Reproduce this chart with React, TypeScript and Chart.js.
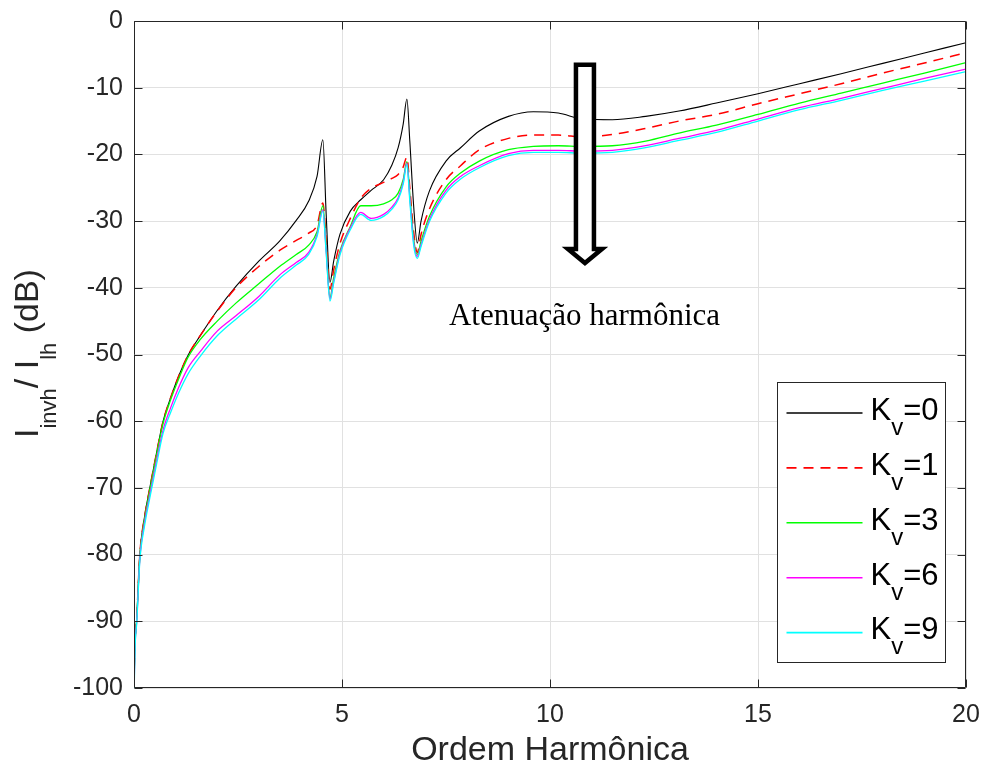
import React, { useEffect, useRef } from "react";
import { Chart, registerables } from "chart.js";

Chart.register(...registerables);

// Harmonic order (x axis)
const HARMONIC = [
  0.005, 0.03, 0.065, 0.14, 0.25, 0.38, 0.55, 0.7, 0.88, 1.07, 1.3, 1.6, 2.0, 2.45,
  3.0, 3.5, 3.9, 4.2, 4.4, 4.54, 4.62, 4.71, 4.8, 4.95, 5.2, 5.45, 5.7, 6.0, 6.2,
  6.35, 6.47, 6.56, 6.63, 6.72, 6.81, 6.9, 7.1, 7.5, 7.85, 8.3, 9.0, 9.6, 10.2,
  10.8, 11.5, 12.3, 13.1, 14.0, 15.0, 16.0, 17.0, 18.0, 19.0, 20.0,
];

// I_invh / I_lh (dB) for each Kv
const KV0 = [
  -96, -92.5, -89.5, -80, -74.5, -70, -64.5, -60, -56.5, -53.3, -50.1, -47.1, -43.4, -39.8,
  -36.0, -33.0, -29.9, -27.0, -23.3, -17.8, -29, -39.2, -36, -32, -28.5, -26.8, -25.4, -23.8, -21.6,
  -19, -15.5, -11.7, -18, -27.5, -33.3, -30, -25.5, -21.0, -19.0, -16.5, -14.3, -13.6, -13.8,
  -14.7, -14.8, -14.3, -13.5, -12.3, -10.9, -9.4, -7.9, -6.35, -4.8, -3.25,
];
const KV1 = [
  -97, -92.5, -89.5, -80, -74.5, -70, -64.5, -60, -56.5, -53.3, -50.1, -47.1, -43.5, -40.0,
  -36.8, -34.4, -32.9, -31.8, -30.6, -27.3, -33, -40.2, -37.3, -33.4, -29.6, -26.6, -25.1, -24.2, -23.6,
  -23.0, -21.9, -20.4, -25, -31.5, -34.7, -32, -28.2, -23.8, -21.7, -19.3, -17.6, -17.1, -17.1,
  -17.4, -17.0, -16.1, -15.0, -14.0, -12.4, -10.9, -9.4, -7.8, -6.3, -4.75,
];
const KV3 = [
  -98, -92.7, -89.7, -80.2, -74.8, -70.3, -64.8, -60.3, -56.8, -53.7, -50.4, -47.7, -45.0, -42.3,
  -39.4, -36.8, -35.0, -33.6, -31.6, -27.7, -34, -41.5, -38.5, -34.5, -30.8, -27.7, -27.7, -27.4, -26.8,
  -25.8, -23.8, -21.1, -26, -32.5, -35.0, -33, -29.3, -24.9, -22.8, -21.0, -19.3, -18.8, -18.7,
  -18.8, -18.7, -18.0, -16.8, -15.6, -14.0, -12.3, -10.8, -9.3, -7.8, -6.25,
];
const KV6 = [
  -99, -93, -90, -80.6, -75.3, -71, -65.6, -61.3, -58.0, -55.0, -52.0, -49.5, -46.5, -44.2,
  -41.3, -38.1, -36.2, -34.7, -32.0, -28.3, -34.5, -41.7, -39, -34.8, -31.0, -28.7, -29.6, -29.0, -27.9,
  -26.5, -24.2, -21.3, -26.5, -33, -35.3, -33.5, -29.8, -25.4, -23.3, -21.7, -19.9, -19.4, -19.4,
  -19.5, -19.4, -18.7, -17.6, -16.4, -14.7, -13.0, -11.6, -10.1, -8.6, -7.2,
];
const KV9 = [
  -100, -93.3, -90.3, -81, -75.8, -71.5, -66.2, -61.8, -58.7, -55.8, -52.9, -50.2, -47.2, -44.7,
  -41.8, -38.6, -36.6, -35.0, -32.3, -28.5, -34.8, -42.0, -39.3, -35.1, -31.3, -29.0, -29.9, -29.3, -28.2,
  -26.8, -24.5, -21.5, -27, -33.5, -35.6, -33.8, -30.1, -25.8, -23.7, -22.0, -20.2, -19.7, -19.7,
  -19.8, -19.7, -19.0, -17.9, -16.7, -15.0, -13.3, -11.9, -10.4, -9.0, -7.6,
];

const SERIES_VALUES = [KV0, KV1, KV3, KV6, KV9];
const SERIES_KV = ["0", "1", "3", "6", "9"];
const SERIES_COLORS = ["#000000", "#ff0000", "#00ff00", "#ff00ff", "#00ffff"];
const SERIES_DASH = [[], [10, 7], [], [], []];
const SERIES_WIDTH = [1.1, 1.5, 1.3, 1.3, 1.3];

const X_TICKS = [0, 5, 10, 15, 20];
const Y_TICKS = [0, -10, -20, -30, -40, -50, -60, -70, -80, -90, -100];

const X_TITLE = "Ordem Harmônica";
const NOTE_TEXT = "Atenuação harmônica";
const NOTE_POS = { x: 10.83, y: -45.6 };
const ARROW = { x: 10.84, top: -6.57, tip: -36.28 };

const SANS = '"Liberation Sans", Arial, Helvetica, sans-serif';
const SERIF = '"Liberation Serif", "Times New Roman", serif';
const AXIS_COLOR = "#262626";

const overlayPlugin = {
  id: "overlay",
  afterDraw(chart: any) {
    const ctx: CanvasRenderingContext2D = chart.ctx;
    const a = chart.chartArea;
    const xs = chart.scales.x;
    const ys = chart.scales.y;
    const L = Math.round(a.left) + 0.5;
    const R = Math.round(a.right) - 0.5;
    const T = Math.round(a.top) + 0.5;
    const B = Math.round(a.bottom) - 0.5;
    ctx.save();

    // Arrow
    const cx = xs.getPixelForValue(ARROW.x);
    const yt = ys.getPixelForValue(ARROW.top);
    const tip = ys.getPixelForValue(ARROW.tip);
    const sw = 9, hw = 17, hh = 14;
    ctx.beginPath();
    ctx.moveTo(cx - sw, yt);
    ctx.lineTo(cx + sw, yt);
    ctx.lineTo(cx + sw, tip - hh);
    ctx.lineTo(cx + hw, tip - hh);
    ctx.lineTo(cx, tip);
    ctx.lineTo(cx - hw, tip - hh);
    ctx.lineTo(cx - sw, tip - hh);
    ctx.closePath();
    ctx.fillStyle = "#ffffff";
    ctx.fill();
    ctx.lineWidth = 4.5;
    ctx.lineJoin = "miter";
    ctx.strokeStyle = "#000000";
    ctx.stroke();

    // Annotation text
    ctx.font = `31px ${SERIF}`;
    ctx.fillStyle = "#000000";
    ctx.textAlign = "center";
    ctx.textBaseline = "alphabetic";
    ctx.fillText(NOTE_TEXT, xs.getPixelForValue(NOTE_POS.x), ys.getPixelForValue(NOTE_POS.y));

    // Axes box
    ctx.strokeStyle = AXIS_COLOR;
    ctx.lineWidth = 1;
    ctx.beginPath();
    ctx.rect(L, T, R - L, B - T);
    ctx.stroke();
    // inner ticks
    ctx.beginPath();
    const tl = 8;
    X_TICKS.forEach((v) => {
      const p = Math.round(xs.getPixelForValue(v)) + 0.5;
      ctx.moveTo(p, B);
      ctx.lineTo(p, B - tl);
      ctx.moveTo(p, T);
      ctx.lineTo(p, T + tl);
    });
    Y_TICKS.forEach((v) => {
      const p = Math.round(ys.getPixelForValue(v)) + 0.5;
      ctx.moveTo(L, p);
      ctx.lineTo(L + tl, p);
      ctx.moveTo(R, p);
      ctx.lineTo(R - tl, p);
    });
    ctx.stroke();

    // Legend
    const lx = Math.round(a.right) - 189 + 0.5;
    const ly = Math.round(a.top) + 361 + 0.5;
    const lw = 168, lh = 280;
    ctx.fillStyle = "#ffffff";
    ctx.fillRect(lx, ly, lw, lh);
    ctx.strokeStyle = AXIS_COLOR;
    ctx.lineWidth = 1;
    ctx.strokeRect(lx, ly, lw, lh);
    SERIES_KV.forEach((kv, i) => {
      const rowY = ly + 30.5 + i * 54.9;
      ctx.beginPath();
      ctx.setLineDash(SERIES_DASH[i]);
      ctx.strokeStyle = SERIES_COLORS[i];
      ctx.lineWidth = SERIES_WIDTH[i] + 0.3;
      ctx.moveTo(lx + 9, rowY);
      ctx.lineTo(lx + 85, rowY);
      ctx.stroke();
      ctx.setLineDash([]);
      ctx.fillStyle = "#000000";
      ctx.textAlign = "left";
      ctx.textBaseline = "alphabetic";
      const base = rowY + 6.8;
      let tx = lx + 93;
      ctx.font = `31px ${SANS}`;
      ctx.fillText("K", tx, base);
      tx += ctx.measureText("K").width;
      ctx.font = `24px ${SANS}`;
      ctx.fillText("v", tx, base + 15);
      tx += ctx.measureText("v").width;
      ctx.font = `31px ${SANS}`;
      ctx.fillText("=" + kv, tx, base);
    });

    // X title
    ctx.fillStyle = AXIS_COLOR;
    ctx.font = `34px ${SANS}`;
    ctx.textAlign = "center";
    ctx.textBaseline = "alphabetic";
    ctx.fillText(X_TITLE, (a.left + a.right) / 2, a.bottom + 72);

    // Y title with subscripts
    ctx.save();
    ctx.translate(a.left - 96, (a.top + a.bottom) / 2 + 83.5);
    ctx.rotate(-Math.PI / 2);
    ctx.textAlign = "left";
    const parts: [string, boolean][] = [
      ["I", false],
      ["invh", true],
      ["/ I", false],
      ["lh", true],
      [" (dB)", false],
    ];
    let px = 0;
    parts.forEach(([t, sub]) => {
      ctx.font = sub ? `22px ${SANS}` : `34px ${SANS}`;
      ctx.fillText(t, px, sub ? 18 : 0);
      px += ctx.measureText(t).width;
    });
    ctx.restore();

    ctx.restore();
  },
};

export default function App() {
  const ref = useRef<HTMLCanvasElement | null>(null);
  useEffect(() => {
    if (!ref.current) return;
    const datasets = SERIES_VALUES.map((vals, i) => ({
      label: "Kv=" + SERIES_KV[i],
      data: HARMONIC.map((h, j) => ({ x: h, y: vals[j] })),
      borderColor: SERIES_COLORS[i],
      backgroundColor: SERIES_COLORS[i],
      borderWidth: SERIES_WIDTH[i],
      borderDash: SERIES_DASH[i],
      pointRadius: 0,
      fill: false,
      cubicInterpolationMode: "monotone" as const,
      order: SERIES_VALUES.length - 1 - i,
    }));
    const chart = new Chart(ref.current, {
      type: "line",
      data: { datasets },
      plugins: [overlayPlugin],
      options: {
        animation: false,
        responsive: false,
        devicePixelRatio: 1,
        layout: { padding: { top: 21, right: 20, bottom: 0, left: 0 } },
        plugins: { legend: { display: false }, tooltip: { enabled: false } },
        scales: {
          x: {
            type: "linear",
            min: 0,
            max: 20,
            afterFit: (s: any) => {
              s.height = 90;
              s.paddingLeft = 0;
              s.paddingRight = 0;
              s.paddingTop = 0;
              s.paddingBottom = 0;
            },
            afterBuildTicks: (s: any) => {
              s.ticks = X_TICKS.map((v) => ({ value: v }));
            },
            ticks: {
              font: { family: SANS, size: 25 },
              color: AXIS_COLOR,
              padding: 12,
              maxRotation: 0,
              autoSkip: false,
            },
            grid: { color: "#e1e1e1", lineWidth: 1, drawTicks: false },
            border: { display: false },
          },
          y: {
            type: "linear",
            min: -100,
            max: 0,
            afterFit: (s: any) => {
              s.width = 134;
              s.paddingLeft = 0;
              s.paddingRight = 0;
              s.paddingTop = 0;
              s.paddingBottom = 0;
            },
            afterBuildTicks: (s: any) => {
              s.ticks = Y_TICKS.map((v) => ({ value: v }));
            },
            ticks: {
              font: { family: SANS, size: 25 },
              color: AXIS_COLOR,
              padding: 11,
              autoSkip: false,
            },
            grid: { color: "#e1e1e1", lineWidth: 1, drawTicks: false },
            border: { display: false },
          },
        },
      },
    });
    return () => chart.destroy();
  }, []);
  return (
    <div style={{ position: "absolute", left: 0, top: 0, width: 986, height: 778, background: "#ffffff" }}>
      <canvas ref={ref} width={986} height={778} style={{ width: 986, height: 778, display: "block" }} />
    </div>
  );
}
